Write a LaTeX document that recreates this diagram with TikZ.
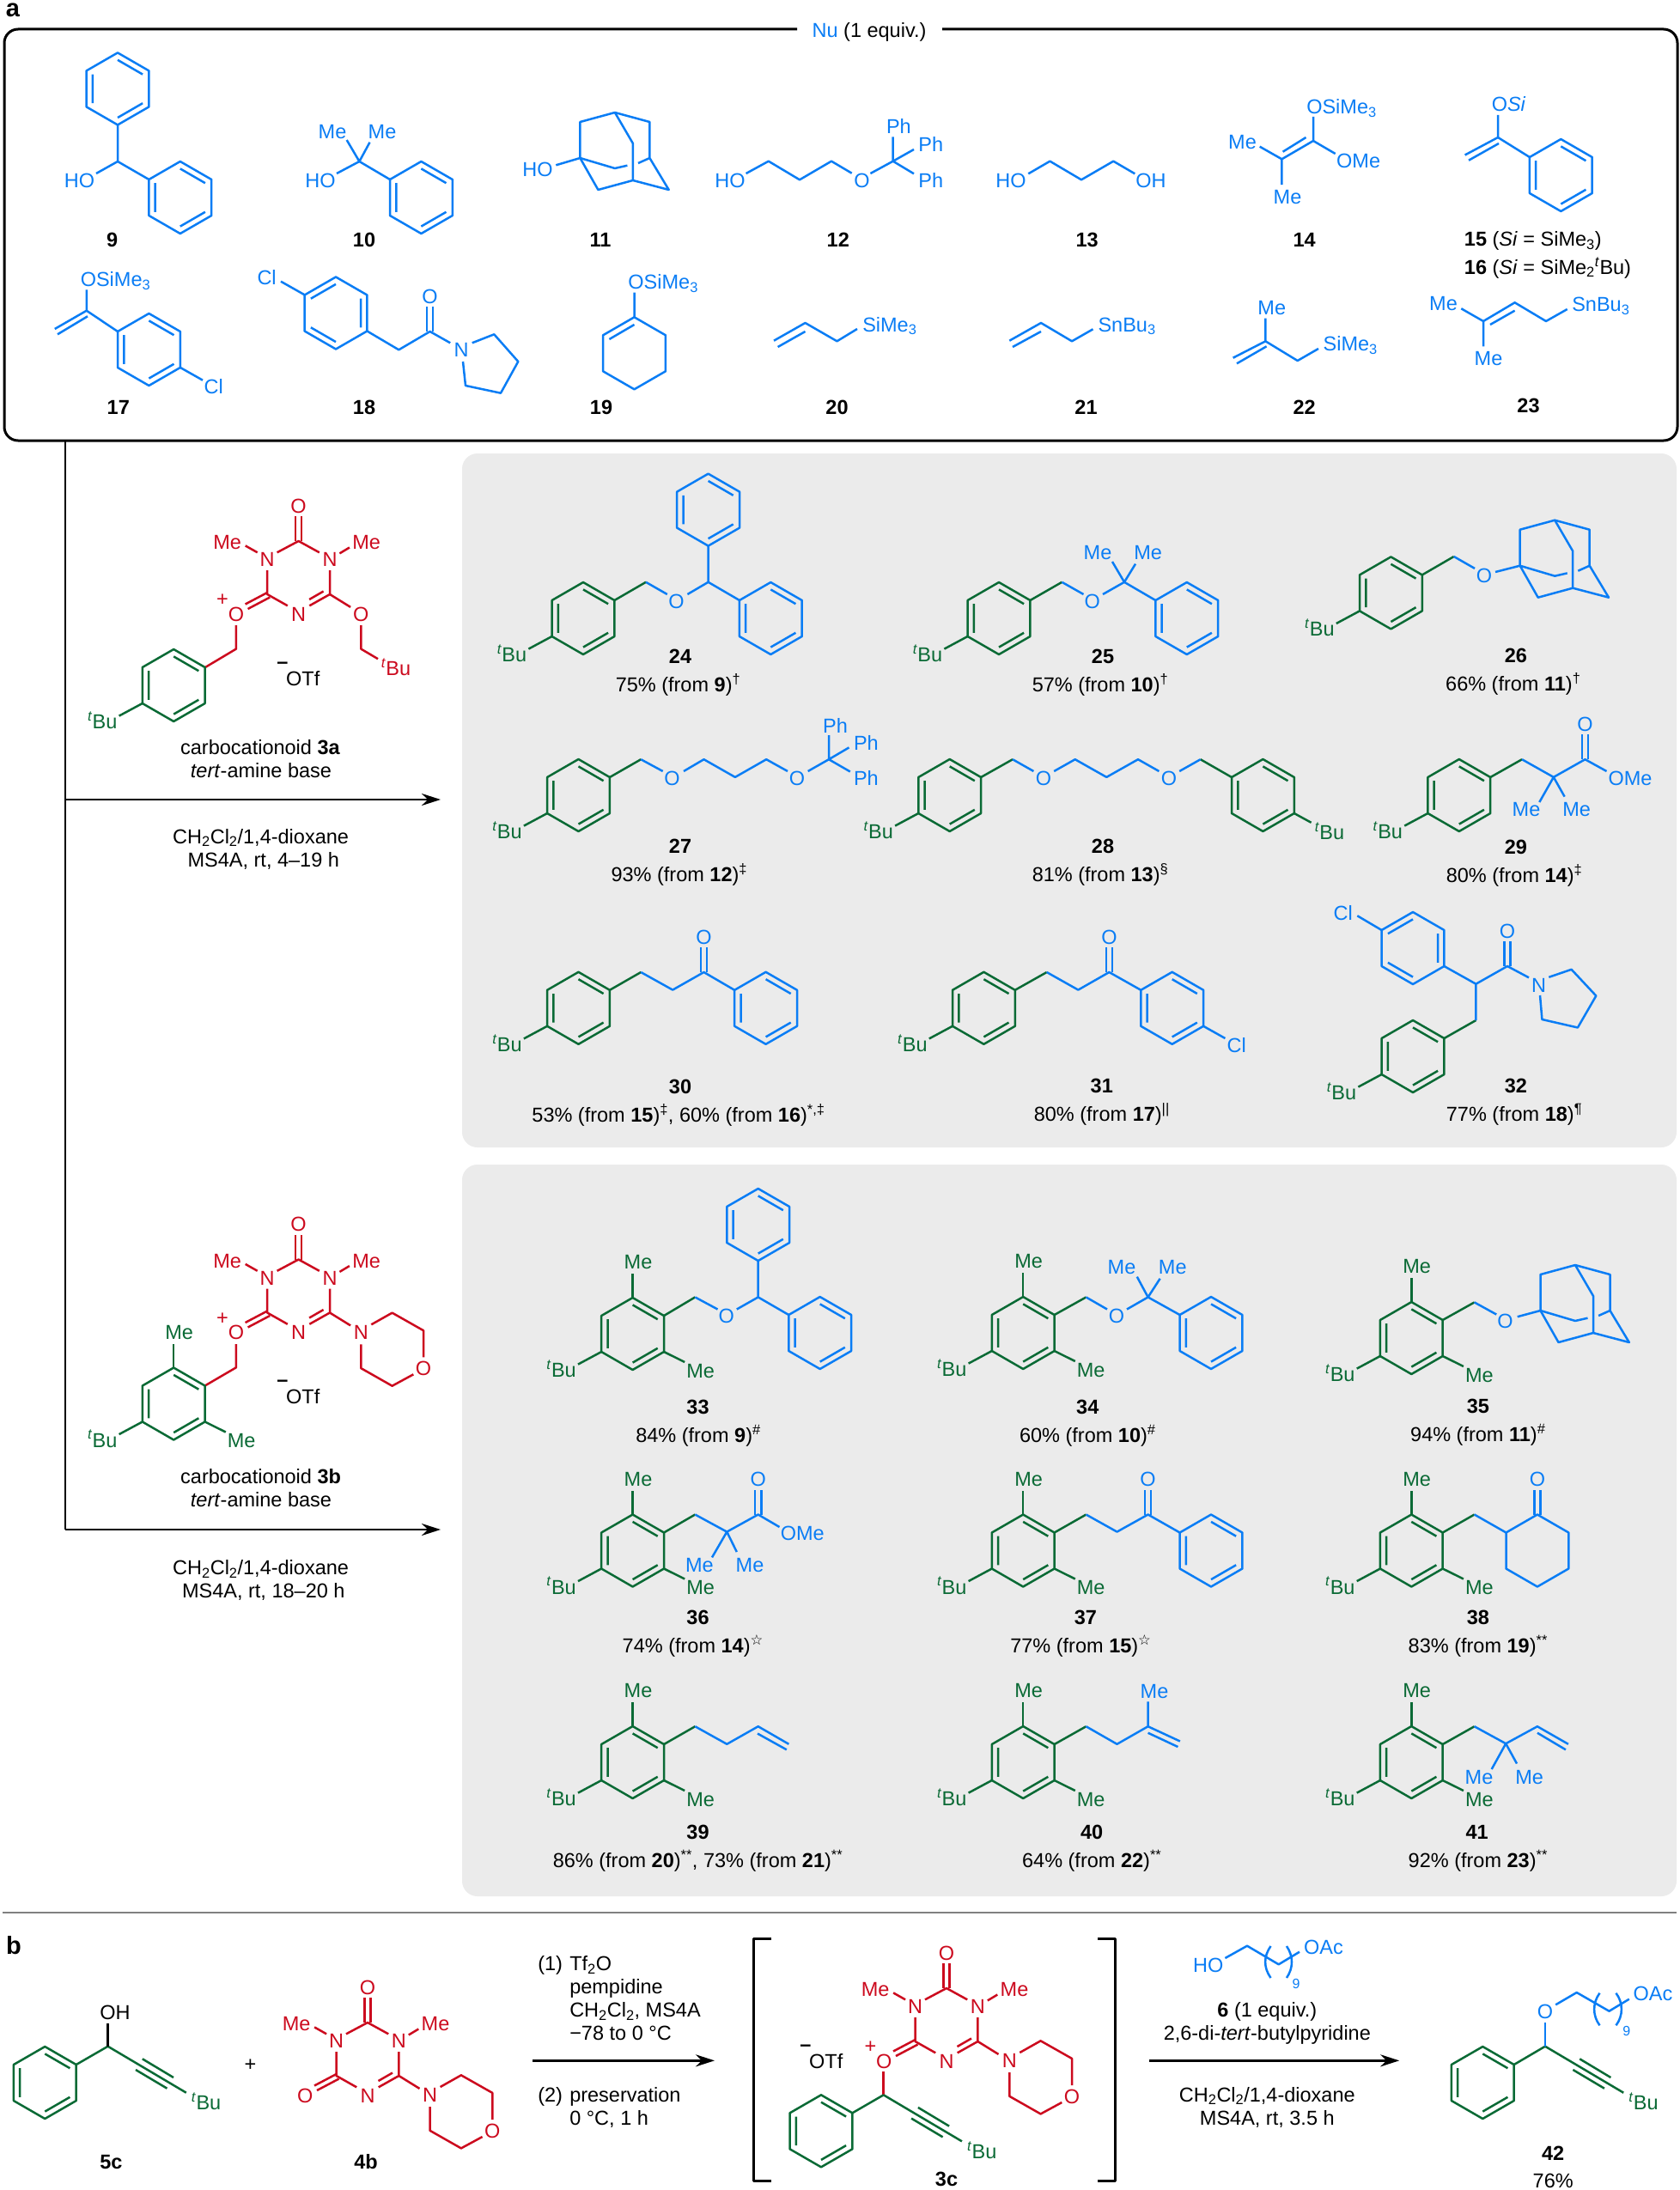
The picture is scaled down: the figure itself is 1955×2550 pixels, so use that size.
\documentclass[tikz,border=0pt]{standalone}
\usepackage{fontspec}
\setmainfont{Liberation Sans}
\newfontfamily\symfnt{DejaVu Sans}
\usetikzlibrary{arrows.meta}
\definecolor{nublue}{HTML}{0A7DF5}
\definecolor{triazred}{HTML}{CC0A1E}
\definecolor{cargreen}{HTML}{0A6A35}
\definecolor{panelgrey}{HTML}{EBEBEB}
\newcounter{labn}
\newcommand{\fs}{\fontsize{23.5}{28}\selectfont}
\newcommand{\tBu}{\textsuperscript{\textit{t}}Bu}
\newcommand{\stmp}{\textsuperscript{\symfnt ☆}}
\newcommand{\atm}[4][center]{\stepcounter{labn}\node[atm,anchor=#1] (lab\arabic{labn}) at (#2,#3) {#4};}
\newcommand{\hexpath}{(0,-42) -- (36.4,-21) -- (36.4,21) -- (0,42) -- (-36.4,21) -- (-36.4,-21) -- cycle}
\newcommand{\hexa}[2]{\begin{scope}[shift={(#1,#2)}]\draw \hexpath;\end{scope}}
\newcommand{\ringa}[2]{\begin{scope}[shift={(#1,#2)}]\draw \hexpath;
  \draw (0,-33.6) -- (29.1,-16.8) (29.1,16.8) -- (0,33.6) (-29.1,16.8) -- (-29.1,-16.8);\end{scope}}
\newcommand{\ringb}[2]{\begin{scope}[shift={(#1,#2)}]\draw \hexpath;
  \draw (0,-33.6) -- (-29.1,-16.8) (-29.1,16.8) -- (0,33.6) (29.1,16.8) -- (29.1,-16.8);\end{scope}}
\newcommand{\aryl}[2]{\begin{scope}[carb]\ringa{#1}{#2}\begin{scope}[shift={(#1,#2)}]
  \draw (-36.4,21) -- (-63.6,35.6); \atm{-83}{42}{\tBu}\end{scope}\end{scope}}
\newcommand{\mesityl}[2]{\aryl{#1}{#2}\begin{scope}[carb,shift={(#1,#2)}]
  \draw (0,-42) -- (0,-70); \atm{6.4}{-84}{Me}
  \draw (36.4,21) -- (60.6,33); \atm{79}{42.5}{Me}\end{scope}}
\newcommand{\carbonyl}[2]{\draw (#1-3.6,#2) -- (#1-3.6,#2-29) (#1+3.6,#2) -- (#1+3.6,#2-29); \atm{#1}{#2-41.3}{O}}
\newcommand{\adam}[2]{\begin{scope}[shift={(#1,#2)}]
  \draw (0,0) -- (0,-42) -- (40.5,-53) -- (81,-42) -- (81,0) -- (103.3,37) -- (61.5,26) -- (21,37) -- cycle;
  \draw (40.5,-53) -- (61.5,-17) -- (61.5,26);
  \draw (0,0) -- (40.5,12) -- (55,8.7) (67.6,6) -- (81,0);\end{scope}}
\newcommand{\triaz}[2]{\begin{scope}[triz,shift={(#1,#2)}]
  \carbonyl{0}{0}
  \atm{-82.9}{1}{Me} \atm{79}{1}{Me}
  \atm{-36.4}{21.3}{N} \atm{36.4}{21.3}{N} \atm{0}{84.8}{N}
  \atm{-72.7}{84.8}{O}
  \draw (-25,13.3) -- (0,0) -- (24.2,13.3);
  \draw (-61.9,5.4) -- (-47.9,13.3) (47.8,14.4) -- (59.3,7.5);
  \draw (-36.4,34) -- (-36.4,62) -- (-12.8,75.3);
  \draw (36.4,34) -- (36.4,62) -- (12.7,75.3);
  \draw (12.5,68) -- (29,58.5);
  \draw (-36.4,60) -- (-62,73.5) (-33.4,65.5) -- (-59,79);
  \draw (36.4,62) -- (60.5,76.9);\end{scope}}
\newcommand{\morph}[2]{\begin{scope}[triz,shift={(#1,#2)}]
  \atm{0}{0}{N} \atm{72.7}{41.8}{O}
  \draw (12,-9) -- (36.3,-22.7) -- (72.7,-2.1) -- (72.7,29);
  \draw (61,49) -- (36.3,62.4) -- (0,41.8) -- (0,14);\end{scope}}
\newcommand{\triple}[2]{\begin{scope}[carb,shift={(#1,#2)}]
  \draw (0,0) -- (91.2,54);
  \draw (40.2,14.6) -- (76.4,36.3) (32.4,27.3) -- (68.9,49);
  \atm{114.5}{65.3}{\tBu}\end{scope}}
\tikzset{
  atm/.style={inner sep=0pt,text height=17pt,text depth=0pt,font=\fs},
  nu/.style={color=nublue},
  carb/.style={color=cargreen},
  triz/.style={color=triazred},
  rxn/.style={-{Stealth[length=22pt,width=14pt]},line width=2.4pt,color=black},
  panel/.style={fill=panelgrey,draw=none,rounded corners=18pt},
  seclab/.style={inner sep=0pt,font=\fontsize{29}{32}\selectfont\bfseries}
}
\begin{document}
\begin{tikzpicture}[x=1pt,y=-1pt,line width=2.5pt,line join=round]
\useasboundingbox (0,0) rectangle (1955,2550);
\fill[white] (0,0) rectangle (1955,2550);
\fill[panel] (538,528) rectangle (1952,1336);
\fill[panel] (538,1356) rectangle (1952,2208);
\draw[line width=3pt,rounded corners=16pt] (928,34) -- (5,34) -- (5,513) -- (1953,513) -- (1953,34) -- (1097,34);
\draw[color=gray,line width=2.5pt] (3,2227) -- (1952,2227);
\node[seclab] (laba) at (15,12) {a};
\node[seclab] (labb) at (16,2265) {b};
\atm{1012}{35}{\textcolor{nublue}{Nu} (1 equiv.)}
% nucleophiles
\begin{scope}[nu]
\ringa{137}{103.4} \ringa{209.8}{230}
\draw (137,145.4) -- (137,188) -- (173.4,209) (137,188) -- (112,202); \atm{92.5}{210}{HO}
\ringa{490.4}{230}
\draw (403.7,163) -- (418.4,188) -- (430.5,165.7) (392,202) -- (418.4,188) -- (454,209);
\atm{373}{210}{HO} \atm{387}{152.7}{Me} \atm{445}{152.7}{Me}
\adam{675.4}{184} \draw (647.3,192.3) -- (675.4,184); \atm{626}{196.7}{HO}
\atm{850}{210}{HO} \atm{1003.5}{210}{O}
\draw (868.6,202) -- (894.8,187.7) -- (931,209.3) -- (968,187.7) -- (991.7,201.7);
\draw (1013.4,202) -- (1039.7,187.7) -- (1039.7,159.3) (1039.7,187.7) -- (1064,174) (1039.7,187.7) -- (1064,202.3);
\atm{1046.4}{147.3}{Ph} \atm{1083.7}{168.3}{Ph} \atm{1083.7}{210}{Ph}
\atm{1177}{210}{HO} \atm{1340}{210}{OH}
\draw (1197.3,202.3) -- (1222.4,187.7) -- (1259,209.3) -- (1296.3,187.7) -- (1321.3,202.3);
\draw (1529,136) -- (1529,164) -- (1492.4,185.3) -- (1466.7,170.7) (1529,164) -- (1554.7,179) (1492.4,185.3) -- (1492.4,215);
\draw (1493.6,176.7) -- (1520.5,160);
\atm[west]{1520}{124}{OSiMe\textsubscript{3}} \atm{1581.6}{186.7}{OMe} \atm{1446.5}{165}{Me} \atm{1499}{228.7}{Me}
\ringa{1817.3}{204}
\draw (1744,134) -- (1744,160) -- (1780.9,183) (1744,160) -- (1705.6,180.5) (1710,186.7) -- (1745,167);
\atm[west]{1735.5}{121}{O\textit{Si}}
\ringa{173.4}{407}
\draw (100.8,337.3) -- (100.8,361.7) -- (137,386) (100.8,361.7) -- (63.8,383) (67,389.3) -- (102,368.3);
\draw (210,428) -- (236,442.7);
\atm[west]{92.5}{325}{OSiMe\textsubscript{3}} \atm{248.7}{450}{Cl}
\ringb{391}{364.5}
\draw (327,327.7) -- (354.6,343.3) (427.4,385.5) -- (464.3,407.3) -- (500.6,386) -- (524.2,399.3);
\carbonyl{500.6}{386}
\atm{310.6}{323.3}{Cl} \atm{537}{407.3}{N}
\draw (549.7,399.3) -- (575.3,389.3) -- (603.3,421) -- (583,457.7) -- (542,449) -- (539,421);
\hexa{738.5}{411.3}
\draw (738.5,340.7) -- (738.5,369.3) (738.5,378) -- (709.4,395);
\atm[west]{730.2}{328.3}{OSiMe\textsubscript{3}}
\draw (901,396.7) -- (937.5,376) -- (974.5,397.3) -- (998,383) (905.6,404) -- (937.5,386);
\atm[west]{1003}{377.7}{SiMe\textsubscript{3}}
\draw (1175.3,396.7) -- (1212,376) -- (1248,397.3) -- (1272.5,383.3) (1179,404) -- (1212,386);
\atm[west]{1277.3}{377.7}{SnBu\textsubscript{3}}
\draw (1473.4,370.7) -- (1473.4,397.3) -- (1435.6,416.7) (1440,423.3) -- (1474.6,403.3) (1473.4,397.3) -- (1510.7,420) -- (1535,406);
\atm{1480.8}{358.3}{Me} \atm[west]{1539.4}{400}{SiMe\textsubscript{3}}
\draw (1701.3,359.3) -- (1727,374) -- (1763.6,352.3) -- (1800,374) -- (1824.7,360) (1735,378) -- (1763.6,361.7) (1727,374) -- (1727,403.3);
\atm{1680.5}{353.3}{Me} \atm[west]{1829}{354}{SnBu\textsubscript{3}} \atm{1733}{416.7}{Me}
\end{scope}
\atm{130.7}{279}{\textbf{9}} \atm{424}{279}{\textbf{10}} \atm{699}{279}{\textbf{11}} \atm{975.8}{279}{\textbf{12}}
\atm{1265.7}{279}{\textbf{13}} \atm{1518.6}{279}{\textbf{14}}
\atm[west]{1703.7}{278.3}{\textbf{15} (\textit{Si} = SiMe\textsubscript{3})}
\atm[west]{1703.7}{310.7}{\textbf{16} (\textit{Si} = SiMe\textsubscript{2}\tBu)}
\atm{137.8}{474.3}{\textbf{17}} \atm{424}{474.3}{\textbf{18}} \atm{700}{474.3}{\textbf{19}} \atm{974.5}{474.3}{\textbf{20}}
\atm{1264.5}{474.3}{\textbf{21}} \atm{1518.6}{474.3}{\textbf{22}} \atm{1779.5}{471.7}{\textbf{23}}
% trunk and reaction arrows
\coordinate (trunk) at (76,513);
\coordinate (bendup) at (76,931);
\coordinate (benddown) at (76,1781);
\coordinate (tipup) at (513,931);
\coordinate (tipdown) at (513,1781);
\draw[line width=2.4pt] (trunk) -- (benddown);
\draw[rxn] (bendup) -- (tipup);
\draw[rxn] (benddown) -- (tipdown);
% carbocationoid 3a
\triaz{347.6}{630}
\begin{scope}[triz]
\atm{259}{697}{+} \atm{420.3}{714.8}{O}
\draw (274.9,728) -- (274.9,755.6) -- (239,777);
\draw (420.3,728) -- (420.3,755.6) -- (440,767.2);
\atm{461}{778}{\tBu}
\end{scope}
\aryl{202.2}{798}
\atm{329}{770}{\textbf{–}} \atm{352.7}{790}{OTf}
\atm{303}{870}{carbocationoid \textbf{3a}}
\atm{304}{897.4}{\textit{tert}-amine base}
\atm{303.6}{973.7}{CH\textsubscript{2}Cl\textsubscript{2}/1,4-dioxane}
\atm{306.8}{1000.7}{MS4A, rt, 4–19 h}
% carbocationoid 3b
\triaz{347.6}{1466.5}
\morph{420.3}{1551.3}
\begin{scope}[triz]
\atm{259}{1534}{+}
\draw (274.9,1565) -- (274.9,1592.3) -- (238.6,1613.5);
\end{scope}
\mesityl{202.2}{1634.5}
\atm{329}{1605.8}{\textbf{–}} \atm{352.7}{1626.4}{OTf}
\atm{303.6}{1718.6}{carbocationoid \textbf{3b}}
\atm{304}{1746.2}{\textit{tert}-amine base}
\atm{303.6}{1825.3}{CH\textsubscript{2}Cl\textsubscript{2}/1,4-dioxane}
\atm{306.8}{1852}{MS4A, rt, 18–20 h}
% products from 3a
\aryl{679}{720}
\begin{scope}[carb] \draw (715.4,699) -- (752,677.8); \end{scope}
\begin{scope}[nu]
\draw (752,677.8) -- (776.8,692) (800.4,692) -- (824.6,677.8) -- (861,699) (824.6,677.8) -- (824.6,635.4);
\atm{787.6}{700}{O} \ringa{824.6}{593.6} \ringa{897.3}{720}
\end{scope}
\atm{792}{763.5}{\textbf{24}} \atm{789.5}{797}{75\% (from \textbf{9})\textsuperscript{†}}
\aryl{1163}{720}
\begin{scope}[carb] \draw (1199.4,699) -- (1236.4,677.8); \end{scope}
\begin{scope}[nu]
\draw (1236.4,677.8) -- (1261.5,692) (1284,692) -- (1309,677.8) -- (1345.4,699) (1295,654) -- (1309,677.8) -- (1322,656.6);
\atm{1271.8}{700}{O} \atm{1278}{642.8}{Me} \atm{1336.6}{642.8}{Me} \ringa{1381.8}{720}
\end{scope}
\atm{1284}{763.5}{\textbf{25}} \atm{1281}{797}{57\% (from \textbf{10})\textsuperscript{†}}
\aryl{1619.4}{690.4}
\begin{scope}[carb] \draw (1655.8,669.4) -- (1692.7,648); \end{scope}
\begin{scope}[nu]
\draw (1692.7,648) -- (1717,661.9) (1741,666) -- (1769.7,658.7);
\atm{1728}{670.3}{O} \adam{1769.7}{658.7}
\end{scope}
\atm{1764.8}{763}{\textbf{26}} \atm{1761.8}{795.8}{66\% (from \textbf{11})\textsuperscript{†}}
\aryl{673.5}{926}
\begin{scope}[carb] \draw (709.9,905) -- (746.2,884.2); \end{scope}
\begin{scope}[nu]
\draw (746.2,884.2) -- (771.7,898) (796,898) -- (819.5,884.2) -- (855.9,904.9) -- (892.2,884.2) -- (917,898);
\draw (940.7,898) -- (965,884.2) -- (965,856) (965,884.2) -- (988.5,870.4) (965,884.2) -- (989.8,898.5);
\atm{782.5}{906.4}{O} \atm{928}{906.4}{O}
\atm{972.5}{845}{Ph} \atm{1008.4}{865}{Ph} \atm{1008.4}{905.8}{Ph}
\end{scope}
\atm{792}{984.8}{\textbf{27}} \atm{790.8}{1017.6}{93\% (from \textbf{12})\textsuperscript{‡}}
\aryl{1105.7}{926}
\begin{scope}[carb]
\draw (1142.1,905) -- (1179,884.2);
\ringa{1470.4}{926}
\draw (1397.7,884.2) -- (1434,905) (1506.8,947) -- (1526.6,957.8);
\atm{1548}{969}{\tBu}
\end{scope}
\begin{scope}[nu]
\draw (1179,884.2) -- (1203.4,898) (1227.2,898) -- (1251.7,884.2) -- (1288.3,904.9) -- (1325,884.2) -- (1349.4,898);
\atm{1215}{906.4}{O} \atm{1361}{906.4}{O}
\draw (1373.2,898) -- (1397.7,884.2);
\end{scope}
\atm{1284}{984.8}{\textbf{28}} \atm{1281}{1017.6}{81\% (from \textbf{13})\textsuperscript{§}}
\aryl{1698.8}{926}
\begin{scope}[carb] \draw (1735.2,905) -- (1772,884.2); \end{scope}
\begin{scope}[nu]
\draw (1772,884.2) -- (1808.8,904.9) -- (1845.5,884.2) -- (1870.5,898) (1792.3,934) -- (1808.8,904.9) -- (1821.6,927.6);
\carbonyl{1845.5}{884.2}
\atm{1898}{906.4}{OMe} \atm{1777}{942.4}{Me} \atm{1835.7}{942.4}{Me}
\end{scope}
\atm{1764.8}{985.9}{\textbf{29}} \atm{1763}{1018.7}{80\% (from \textbf{14})\textsuperscript{‡}}
\aryl{673.5}{1173.8}
\begin{scope}[carb] \draw (709.9,1152.8) -- (746.2,1132); \end{scope}
\begin{scope}[nu]
\draw (746.2,1132) -- (783.2,1152.6) -- (819.5,1132) -- (855.2,1152.8);
\carbonyl{819.5}{1132} \ringa{891.6}{1173.8}
\end{scope}
\atm{792}{1264.8}{\textbf{30}}
\atm{790}{1297.7}{53\% (from \textbf{15})\textsuperscript{‡}, 60\% (from \textbf{16})\textsuperscript{*,‡}}
\aryl{1145.4}{1173.8}
\begin{scope}[carb] \draw (1181.8,1152.8) -- (1218.7,1132); \end{scope}
\begin{scope}[nu]
\draw (1218.7,1132) -- (1255.3,1152.6) -- (1291.4,1132) -- (1328.3,1152.8) (1401.1,1194.8) -- (1426.4,1209);
\carbonyl{1291.4}{1132} \ringa{1364.7}{1173.8} \atm{1439.8}{1217}{Cl}
\end{scope}
\atm{1282.8}{1263.8}{\textbf{31}} \atm{1282.8}{1297}{80\% (from \textbf{17})\textsuperscript{||}}
\aryl{1645}{1230}
\begin{scope}[carb] \draw (1681.4,1209) -- (1718.4,1188); \end{scope}
\begin{scope}[nu]
\ringb{1645}{1104}
\draw (1580.3,1066.3) -- (1608.6,1083) (1681.4,1125) -- (1718.4,1145.7) -- (1755,1125) -- (1780,1138.3) (1718.4,1145.7) -- (1718.4,1188);
\carbonyl{1755}{1125}
\atm{1563.8}{1062.6}{Cl} \atm{1791.7}{1146.8}{N}
\draw (1803.3,1137.8) -- (1829.6,1128.8) -- (1858.3,1159.5) -- (1836.9,1196.5) -- (1795.4,1187) -- (1793,1159);
\end{scope}
\atm{1764.8}{1263.8}{\textbf{32}} \atm{1763}{1296.6}{77\% (from \textbf{18})\textsuperscript{¶}}
% products from 3b
\mesityl{736.6}{1553}
\begin{scope}[carb] \draw (773,1532) -- (809.3,1510.4); \end{scope}
\begin{scope}[nu]
\draw (809.3,1510.4) -- (835.5,1524.5) (857.8,1524.5) -- (882.7,1510.4) -- (882.7,1468) (882.7,1510.4) -- (918.3,1531);
\atm{845.7}{1531.6}{O} \ringa{882.7}{1426} \ringa{954.7}{1552}
\end{scope}
\atm{812.5}{1637.8}{\textbf{33}} \atm{813}{1670.9}{84\% (from \textbf{9})\textsuperscript{\#}}
\mesityl{1191.2}{1552}
\begin{scope}[carb] \draw (1227.6,1531) -- (1264.5,1510.4); \end{scope}
\begin{scope}[nu]
\draw (1264.5,1510.4) -- (1289,1524.5) (1312,1524.5) -- (1336.6,1510.4) -- (1373.6,1531) (1323.8,1486.6) -- (1336.6,1510.4) -- (1350.6,1488.8);
\atm{1300}{1531.6}{O} \atm{1306}{1475.2}{Me} \atm{1365.3}{1475.2}{Me} \ringa{1410}{1552}
\end{scope}
\atm{1266.3}{1637.8}{\textbf{34}} \atm{1266.3}{1670.9}{60\% (from \textbf{10})\textsuperscript{\#}}
\mesityl{1643.3}{1558}
\begin{scope}[carb] \draw (1679.7,1537) -- (1716.6,1516.4); \end{scope}
\begin{scope}[nu]
\draw (1716.6,1516.4) -- (1742.2,1530.5) (1766.7,1533.2) -- (1793.5,1526);
\atm{1752.6}{1538}{O} \adam{1793.5}{1526}
\end{scope}
\atm{1720.8}{1636.7}{\textbf{35}} \atm{1720.8}{1669.8}{94\% (from \textbf{11})\textsuperscript{\#}}
\mesityl{736.6}{1805.5}
\begin{scope}[carb] \draw (773,1784.5) -- (809.3,1763.5); \end{scope}
\begin{scope}[nu]
\draw (809.3,1763.5) -- (846.3,1783.6) -- (882.7,1763.5) -- (907.5,1778) (829,1813.4) -- (846.3,1783.6) -- (857.8,1807);
\carbonyl{882.7}{1763.5}
\atm{934.3}{1785}{OMe} \atm{814.4}{1822}{Me} \atm{873}{1822}{Me}
\end{scope}
\atm{812.5}{1883.3}{\textbf{36}} \atm{806.8}{1916.4}{74\% (from \textbf{14})\stmp}
\mesityl{1191.2}{1805.5}
\begin{scope}[carb] \draw (1227.6,1784.5) -- (1264.5,1763.5); \end{scope}
\begin{scope}[nu]
\draw (1264.5,1763.5) -- (1300.5,1783.6) -- (1336.6,1763.5) -- (1373.6,1784.5);
\carbonyl{1336.6}{1763.5} \ringa{1410}{1805.5}
\end{scope}
\atm{1263.9}{1883.3}{\textbf{37}} \atm{1258.4}{1916.4}{77\% (from \textbf{15})\stmp}
\mesityl{1643.3}{1805.5}
\begin{scope}[carb] \draw (1679.7,1784.5) -- (1716.6,1763.5); \end{scope}
\begin{scope}[nu]
\draw (1716.6,1763.5) -- (1753.5,1784.5);
\hexa{1789.9}{1805.5}
\carbonyl{1789.9}{1763.5}
\end{scope}
\atm{1720.8}{1883.3}{\textbf{38}} \atm{1720.8}{1916.4}{83\% (from \textbf{19})\textsuperscript{**}}
\mesityl{736.6}{2052}
\begin{scope}[carb] \draw (773,2031) -- (809.3,2010.2); \end{scope}
\begin{scope}[nu]
\draw (809.3,2010.2) -- (846.3,2030.8) -- (882.7,2010.2) -- (918.4,2030.8) (882,2018.5) -- (915.8,2037.3);
\end{scope}
\atm{812.5}{2133.2}{\textbf{39}} \atm{812.5}{2166.3}{86\% (from \textbf{20})\textsuperscript{**}, 73\% (from \textbf{21})\textsuperscript{**}}
\mesityl{1191.2}{2052}
\begin{scope}[carb] \draw (1227.6,2031) -- (1264.5,2010.2); \end{scope}
\begin{scope}[nu]
\draw (1264.5,2010.2) -- (1300.5,2030.8) -- (1336.6,2010.2) -- (1373.9,2027.5) (1336.6,2017.7) -- (1371.4,2034) (1336.6,2010.2) -- (1336.6,1981.4);
\atm{1344}{1969}{Me}
\end{scope}
\atm{1271.2}{2133.2}{\textbf{40}} \atm{1271.2}{2166.3}{64\% (from \textbf{22})\textsuperscript{**}}
\mesityl{1643.3}{2052}
\begin{scope}[carb] \draw (1679.7,2031) -- (1716.6,2010.2); \end{scope}
\begin{scope}[nu]
\draw (1716.6,2010.2) -- (1753.2,2030.2) -- (1789.9,2010.2) -- (1825.9,2030.8) (1789.9,2017.7) -- (1822.9,2037.3) (1736.7,2060) -- (1753.2,2030.2) -- (1766,2053.5);
\atm{1722}{2068.7}{Me} \atm{1780.7}{2068.7}{Me}
\end{scope}
\atm{1719.6}{2133.2}{\textbf{41}} \atm{1720.8}{2166.3}{92\% (from \textbf{23})\textsuperscript{**}}
% part b
\begin{scope}[carb]
\ringa{52.3}{2425}
\draw (88.7,2404) -- (125.6,2382.7);
\end{scope}
\triple{125.6}{2382.7}
\draw (125.6,2382.7) -- (125.6,2355.7); \atm{134}{2342.7}{OH}
\atm{129.5}{2516.7}{\textbf{5c}}
\atm{291.5}{2403.3}{+}
\triaz{428}{2355}
\morph{500.6}{2439}
\atm{426}{2516.7}{\textbf{4b}}
\atm[west]{625}{2286}{(1)} \atm[west]{662}{2286}{Tf\textsubscript{2}O}
\atm[west]{662}{2313.3}{pempidine}
\atm[west]{662}{2340}{CH\textsubscript{2}Cl\textsubscript{2}, MS4A}
\atm[west]{662}{2366.7}{−78 to 0 °C}
\atm[west]{625}{2439}{(2)} \atm[west]{662}{2439}{preservation}
\atm[west]{662}{2465.7}{0 °C, 1 h}
\coordinate (leftstart) at (620,2399.3);
\coordinate (leftend) at (832,2399.3);
\draw[rxn,line width=3pt] (leftstart) -- (leftend);
\draw (898,2257.3) -- (877.6,2257.3) -- (877.6,2539.3) -- (898,2539.3);
\draw (1278,2257.3) -- (1298.7,2257.3) -- (1298.7,2539.3) -- (1278,2539.3);
\atm{938}{2380}{\textbf{–}} \atm{961.7}{2400}{OTf}
\triaz{1102}{2315}
\morph{1175.3}{2399}
\begin{scope}[triz]
\atm{1013.4}{2381.7}{+}
\draw (1028.7,2411.7) -- (1028.7,2439.3);
\end{scope}
\begin{scope}[carb]
\ringa{956}{2481.3}
\draw (992.4,2460.3) -- (1028.7,2439.3);
\end{scope}
\triple{1028.7}{2439.3}
\atm{1102}{2536.7}{\textbf{3c}}
\begin{scope}[nu]
\draw (1426.4,2280) -- (1452,2265.7) -- (1488.7,2287.3) -- (1513,2272.7);
\draw (1479.5,2266) .. controls (1471,2278) and (1471,2291) .. (1479.5,2303);
\draw (1498,2266) .. controls (1506,2278) and (1506,2291) .. (1498,2303);
\atm{1406.8}{2287.7}{HO} \atm[west]{1516.8}{2266.7}{OAc}
\node[atm,font=\fontsize{16}{18}\selectfont] (labnine) at (1509,2307) {9};
\end{scope}
\atm{1475.3}{2340}{\textbf{6} (1 equiv.)}
\atm{1475.3}{2367.3}{2,6-di-\textit{tert}-butylpyridine}
\atm{1475.3}{2438.7}{CH\textsubscript{2}Cl\textsubscript{2}/1,4-dioxane}
\atm{1475.3}{2465.7}{MS4A, rt, 3.5 h}
\coordinate (rightstart) at (1337.8,2399.3);
\coordinate (rightend) at (1629.2,2399.3);
\draw[rxn,line width=3pt] (rightstart) -- (rightend);
\begin{scope}[carb]
\ringa{1726.3}{2425}
\draw (1762.7,2404) -- (1799,2382.7);
\end{scope}
\triple{1799}{2382.7}
\begin{scope}[nu]
\draw (1799,2382.7) -- (1799,2355);
\draw (1811.2,2334.3) -- (1835.7,2320) -- (1873.5,2341.7) -- (1896.8,2327.7);
\draw (1862.5,2320.7) .. controls (1854,2332) and (1854,2347) .. (1862.5,2358.3);
\draw (1881.5,2320.7) .. controls (1890,2332) and (1890,2347) .. (1881.5,2358.3);
\atm{1799}{2342.3}{O} \atm[west]{1900.4}{2321}{OAc}
\node[atm,font=\fontsize{16}{18}\selectfont] (labninep) at (1893.7,2362) {9};
\end{scope}
\atm{1808.2}{2506.7}{\textbf{42}} \atm{1808.2}{2539}{76\%}
\end{tikzpicture}
\end{document}
